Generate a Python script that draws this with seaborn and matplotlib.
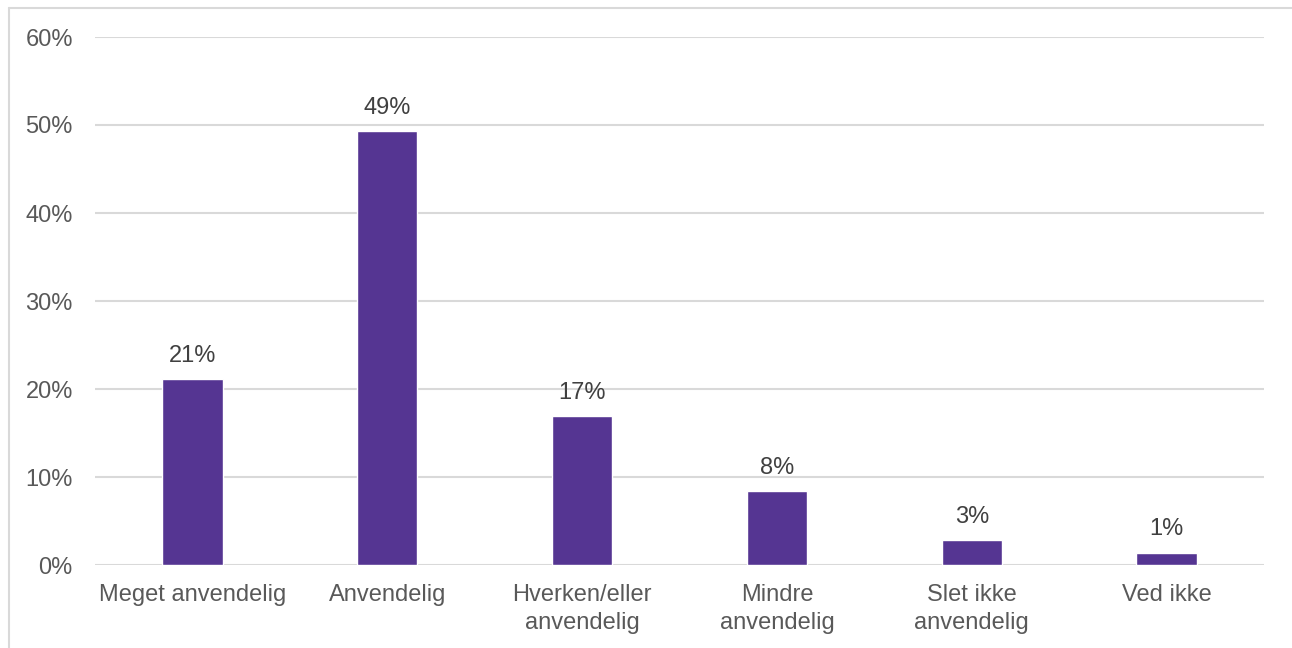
import matplotlib
matplotlib.use("Agg")
import matplotlib.pyplot as plt
from matplotlib.lines import Line2D
from matplotlib.ticker import FuncFormatter
import seaborn as sns
import pandas as pd

categories = ["Meget anvendelig", "Anvendelig", "Hverken/eller\nanvendelig",
              "Mindre\nanvendelig", "Slet ikke\nanvendelig", "Ved ikke"]
values = [21.1, 49.3, 16.9, 8.4, 2.8, 1.4]
value_labels = ["21%", "49%", "17%", "8%", "3%", "1%"]
yticks = [0, 10, 20, 30, 40, 50, 60]

sns.set_theme(style="white")
plt.rcParams["font.family"] = ["Liberation Sans", "DejaVu Sans"]

fig = plt.figure(figsize=(12.92, 6.48), dpi=100)
ax = fig.add_axes([95/1292, 1-565/648, (1264-95)/1292, (565-37)/648])

df = pd.DataFrame({"cat": categories, "val": values})
sns.barplot(data=df, x="cat", y="val", color="#553592", width=0.31,
            saturation=1, ax=ax, zorder=3)

ax.set_ylim(0, 60)
ax.set_xlim(-0.5, 5.5)
ax.set_yticks(yticks)
ax.yaxis.set_major_formatter(FuncFormatter(lambda v, p: f"{int(v)}%"))
ax.grid(axis="y", color="#D9D9D9", linewidth=1.5, zorder=0)
ax.grid(axis="x", visible=False)
for s in ax.spines.values():
    s.set_visible(False)
ax.tick_params(axis="both", length=0, labelsize=17, labelcolor="#595959")
ax.tick_params(axis="y", pad=16)
ax.tick_params(axis="x", pad=14)
ax.set_xlabel("")
ax.set_ylabel("")
for lbl in ax.get_xticklabels():
    lbl.set_linespacing(1.3)

ax.bar_label(ax.containers[0], labels=value_labels, padding=9,
             fontsize=17, color="#404040")

x0 = 8.5/1292
y0 = 1 - 7.5/648
fig.lines.append(Line2D([x0, 1.0], [y0, y0], transform=fig.transFigure,
                        color="#D9D9D9", linewidth=1.5))
fig.lines.append(Line2D([x0, x0], [0.0, y0], transform=fig.transFigure,
                        color="#D9D9D9", linewidth=1.5))

fig.savefig("out.png", dpi=100)
